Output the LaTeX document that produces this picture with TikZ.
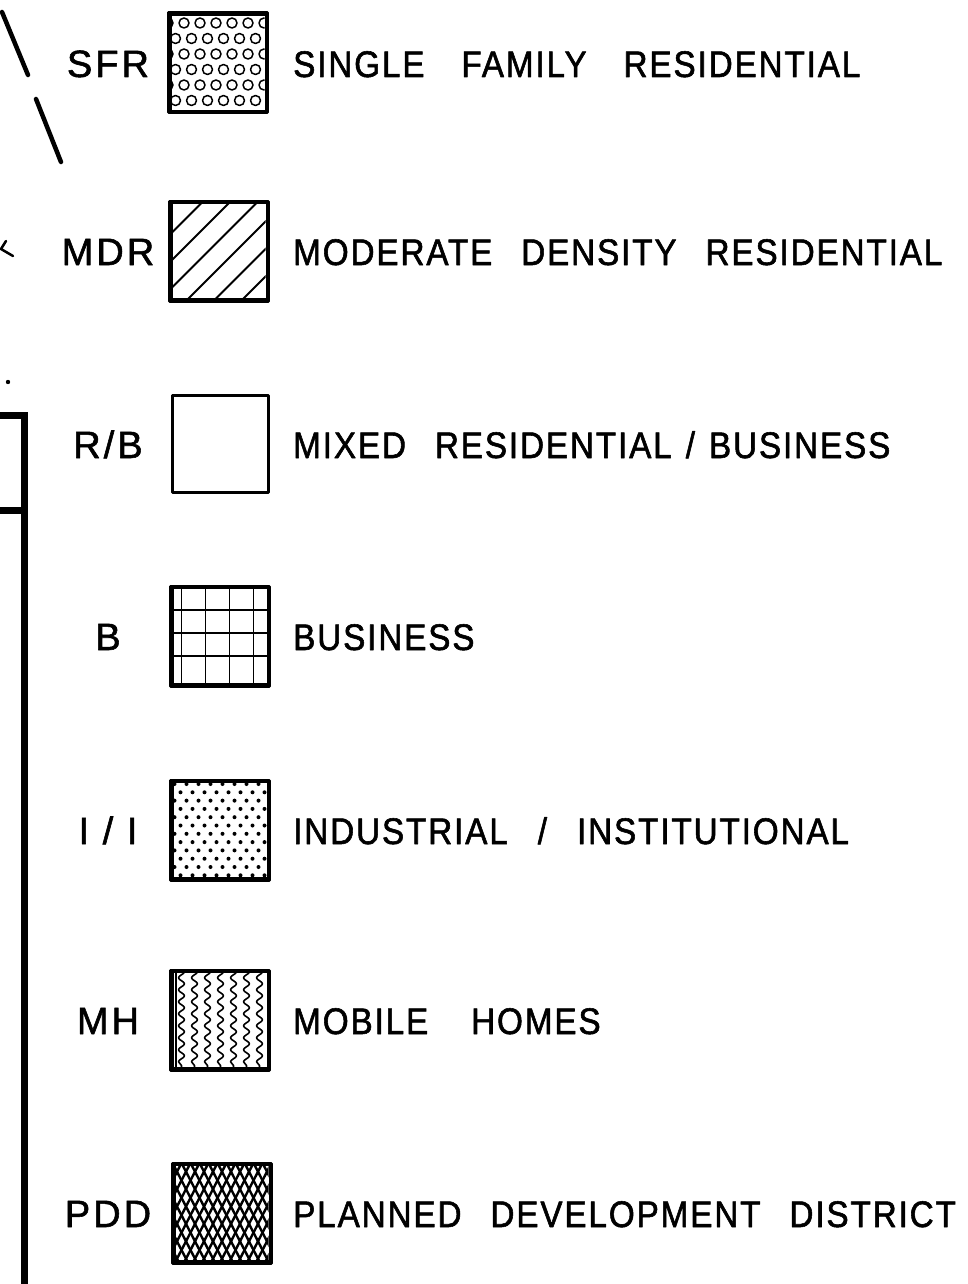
\documentclass[tikz,border=0pt]{standalone}
\usepackage{fontspec}
\usetikzlibrary{positioning,decorations.pathmorphing}
\newfontfamily\legendfont{Liberation Sans}[LetterSpace=5,WordSpace=2.6,FakeStretch=0.9,FakeBold=1.5]
\newfontfamily\codefont{Liberation Sans}[LetterSpace=8,FakeBold=1.5]
\tikzset{
  legendbox/.style={draw,line width=3pt,minimum width=96pt,minimum height=97pt,inner sep=0pt},
  zonecode/.style={font=\codefont\fontsize{38}{40}\selectfont,anchor=base,inner sep=0pt},
  zonedesc/.style={font=\legendfont\fontsize{37}{40}\selectfont,anchor=base west,inner sep=0pt},
  hatch/.style={line width=1.8pt},
  penstroke/.style={line width=4.5pt,line cap=round},
}
\begin{document}
\begin{tikzpicture}[x=1pt,y=-1pt,line join=round]
  \useasboundingbox[fill=white] (0,0) rectangle (967,1284);
  % legend rows
  \foreach \name/\cx/\cy/\code/\desc in {
      sfr/218/63/{SFR}/{SINGLE\hspace{8pt} FAMILY\hspace{8pt} RESIDENTIAL},
      mdr/219/251/{MDR}/{MODERATE DENSITY RESIDENTIAL},
      rb/220/444/{R/B}/{MIXED RESIDENTIAL\hspace{14pt}/\hspace{14pt}BUSINESS},
      bus/220/636/{B}/{BUSINESS},
      ii/220/830/{I / I}/{INDUSTRIAL\hspace{30pt}/\hspace{30pt}INSTITUTIONAL},
      mh/220/1020/{MH}/{MOBILE\hspace{14pt} HOMES},
      pdd/222/1213/{PDD}/{PLANNED DEVELOPMENT DISTRICT}} {
    \node[legendbox] (\name) at (\cx,\cy) {};
    \node[zonecode] (\name code) at (108,\cy+14) {\code};
    \node[zonedesc] (\name desc) at (293,\cy+14) {\desc};
  }
  % single family: open circles
  \begin{scope}[shift={(sfr.north west)}]
    \clip (0,0) rectangle (96,97);
    \foreach \r [evaluate=\r as \off using {mod(\r,2)*7.5-0.5}] in {0,...,5}
      \foreach \c in {0,...,6}
        \draw[line width=1.5pt] ({\off+16*\c},{10+15.5*\r}) circle (5pt);
  \end{scope}
  % moderate density: diagonal hatch
  \begin{scope}[shift={(mdr.north west)}]
    \clip (0,0) rectangle (96,97);
    \foreach \c in {34,61.5,...,200}
      \draw[hatch] (\c,0) -- (\c-110,110);
  \end{scope}
  % business: grid
  \begin{scope}[shift={(bus.north west)}]
    \foreach \x in {11,35,59,83}
      \draw[hatch] (\x,0) -- (\x,97);
    \foreach \y in {24,47,70}
      \draw[hatch] (0,\y) -- (96,\y);
  \end{scope}
  % industrial: dots
  \begin{scope}[shift={(ii.north west)}]
    \clip (0,0) rectangle (96,97);
    \foreach \r [evaluate=\r as \off using {mod(\r,2)*6}] in {0,...,11}
      \foreach \c in {0,...,8}
        \fill ({4+\off+12*\c},{4+8.3*\r}) circle (2pt);
  \end{scope}
  % mobile homes: wavy lines
  \begin{scope}[shift={(mh.north west)}]
    \clip (0,0) rectangle (96,97);
    \draw[line width=2pt] (5,0) -- (5,97);
    \foreach \x in {11,24,37,50,63,76,89}
      \draw[line width=1.6pt,decorate,decoration={snake,amplitude=3pt,segment length=12pt}]
        (\x,-2) -- (\x,100);
  \end{scope}
  % planned development: diamond mesh
  \begin{scope}[shift={(pdd.north west)}]
    \clip (0,0) rectangle (96,97);
    \foreach \k in {-7,...,18} {
      \draw[line width=2.4pt] (9*\k,0) -- (9*\k+54,104.4);
      \draw[line width=2.4pt] (9*\k,0) -- (9*\k-54,104.4);
    }
  \end{scope}
  \foreach \name in {sfr,mdr,bus,ii,mh,pdd}
    \draw[line width=3pt] (\name.south west) rectangle (\name.north east);
  % map fragments at the left edge
  \draw[penstroke] (2,12) -- (28,75);
  \draw[penstroke] (36,99) -- (61,162);
  \draw[line width=2.5pt,line cap=round] (6,241) -- (1,249) -- (13,256);
  \fill (8,382) circle (2.2pt);
  \draw[line width=7pt,line join=miter] (0,415) -- (24,415) -- (24,1290);
  \draw[line width=7pt] (0,510) -- (24,510);
\end{tikzpicture}
\end{document}
